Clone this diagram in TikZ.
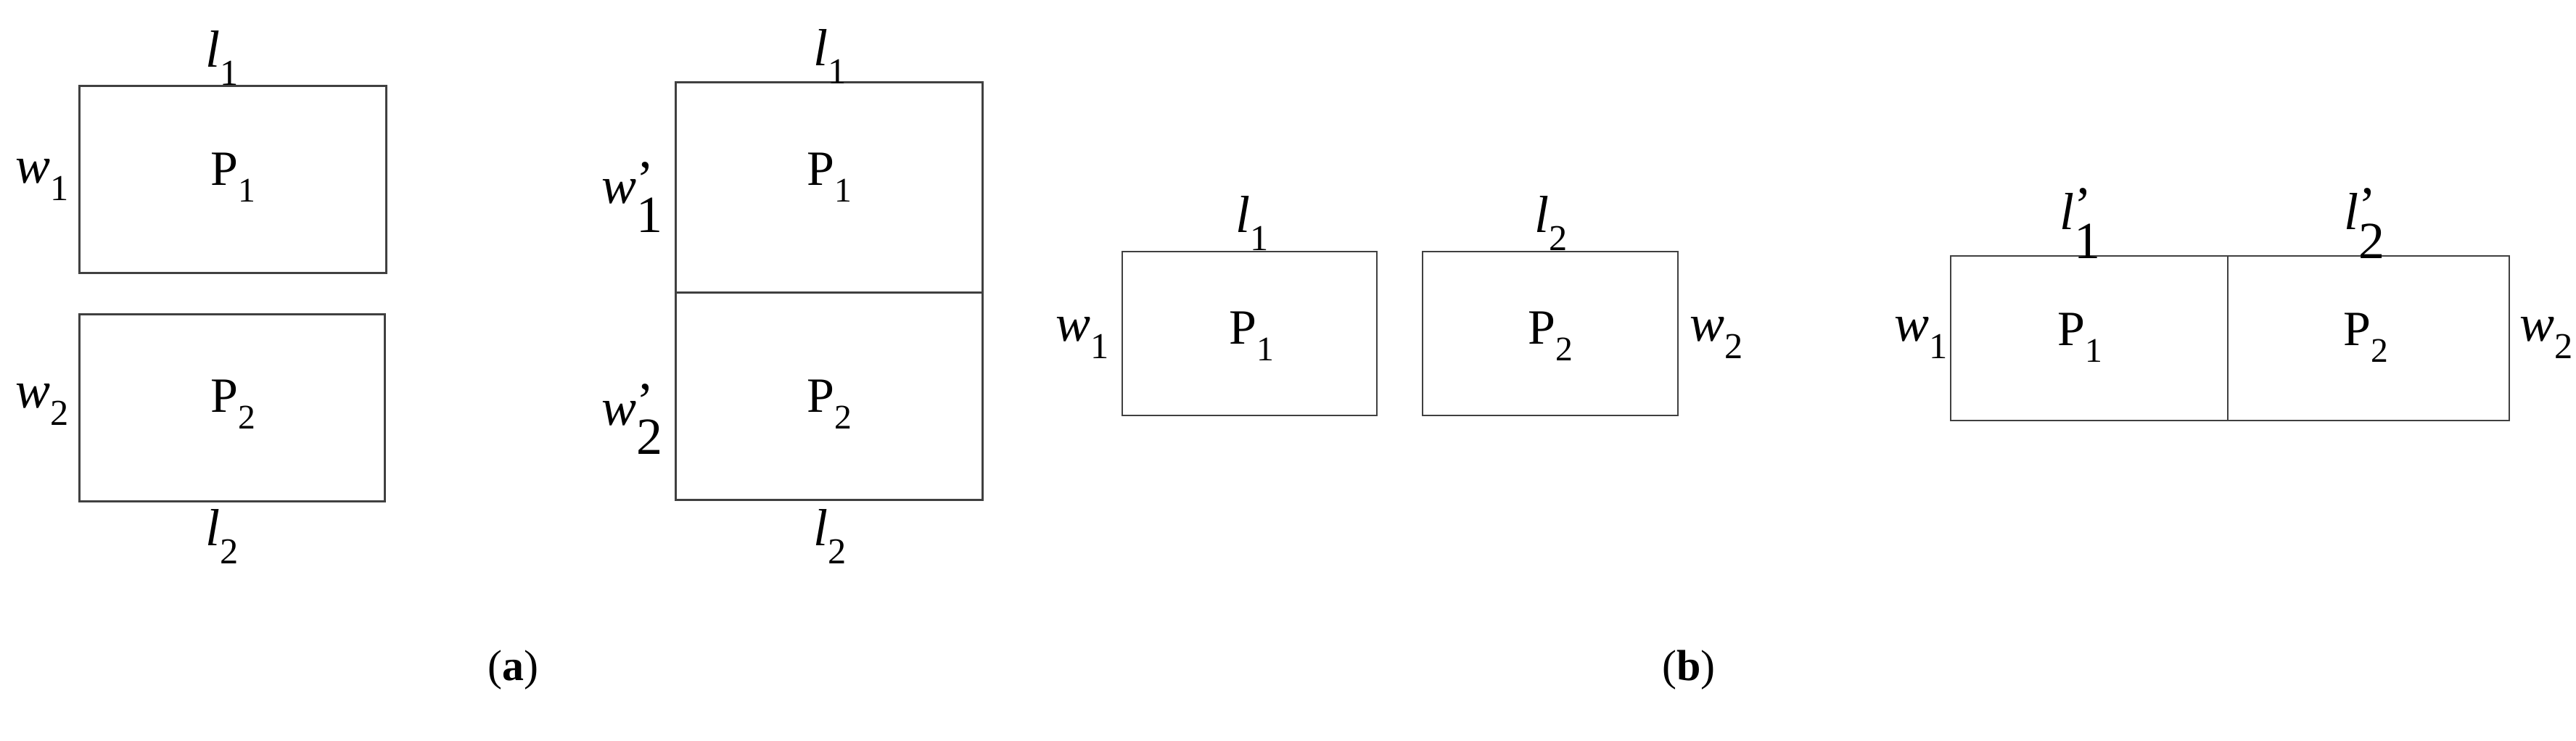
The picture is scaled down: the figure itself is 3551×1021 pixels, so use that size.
\documentclass[tikz,border=0pt]{standalone}
\usepackage{fontspec}
\setmainfont{Liberation Serif}
\newcommand{\lab}[2]{\textit{#1}\textsubscript{#2}}
\newcommand{\labp}[2]{\textit{#1}$^{\mbox{\textquoteright}}_{\mbox{#2}}$}
\begin{document}
\begin{tikzpicture}[x=1pt,y=-1pt,
  box/.style={draw=black!75,line width=3pt},
  txt/.style={font=\fontsize{72}{80}\selectfont,inner sep=0pt},
  ptxt/.style={font=\fontsize{68}{74}\selectfont,inner sep=0pt},
  captxt/.style={font=\fontsize{60}{66}\selectfont,inner sep=0pt}]
\useasboundingbox (0,0) rectangle (3551,1021);
% (a) left
\draw[box] (109,118) rectangle (532,376);
\draw[box] (109,433) rectangle (530,691);
\node[txt] (la1) at (306,80) {\lab{l}{1}};
\node[txt] (wa1) at (58,248) {\lab{w}{1}};
\node[ptxt] (pa1) at (322,245) {P\textsubscript{1}};
\node[txt] (wa2) at (58,558) {\lab{w}{2}};
\node[ptxt] (pa2) at (322,558) {P\textsubscript{2}};
\node[txt] (la2) at (306,740) {\lab{l}{2}};
% (a) right
\draw[box] (931,113) rectangle (1354,689);
\draw[box] (931,403) -- (1354,403);
\node[txt] (lb1) at (1144,78) {\lab{l}{1}};
\node[txt] (wb1) at (872,272) {\labp{w}{1}};
\node[ptxt] (pb1) at (1144,245) {P\textsubscript{1}};
\node[txt] (wb2) at (872,578) {\labp{w}{2}};
\node[ptxt] (pb2) at (1144,558) {P\textsubscript{2}};
\node[txt] (lb2) at (1144,740) {\lab{l}{2}};
% (b) left
\draw[box,line width=2.5pt] (1547,347) rectangle (1898,573);
\draw[box,line width=2.5pt] (1961,347) rectangle (2313,573);
\node[txt] (lc1) at (1726,308) {\lab{l}{1}};
\node[txt] (wc1) at (1492,466) {\lab{w}{1}};
\node[ptxt] (pc1) at (1726,464) {P\textsubscript{1}};
\node[txt] (lc2) at (2138,308) {\lab{l}{2}};
\node[ptxt] (pc2) at (2138,464) {P\textsubscript{2}};
\node[txt] (wc2) at (2366,466) {\lab{w}{2}};
% (b) right
\draw[box,line width=2.5pt] (2689,353) rectangle (3459,580);
\draw[box,line width=2pt] (3071,353) -- (3071,580);
\node[txt] (ld1) at (2868,308) {\labp{l}{1}};
\node[txt] (ld2) at (3260,308) {\labp{l}{2}};
\node[txt] (wd1) at (2648,466) {\lab{w}{1}};
\node[ptxt] (pd1) at (2868,466) {P\textsubscript{1}};
\node[ptxt] (pd2) at (3262,466) {P\textsubscript{2}};
\node[txt] (wd2) at (3510,466) {\lab{w}{2}};
% captions
\node[captxt] (ca) at (707,924) {(\textbf{a})};
\node[captxt] (cb) at (2328,924) {(\textbf{b})};
\end{tikzpicture}
\end{document}
